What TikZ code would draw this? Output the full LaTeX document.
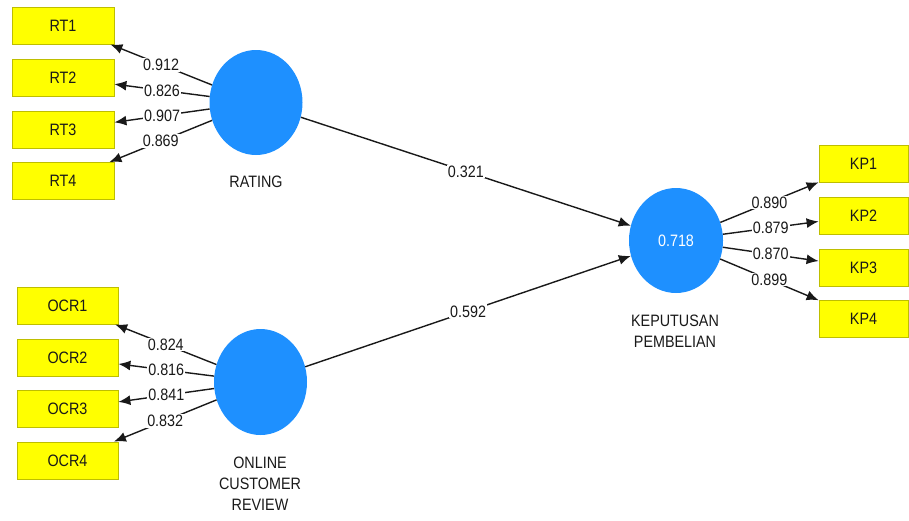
\documentclass[tikz,border=0pt]{standalone}
\usepackage{fontspec}
\setmainfont{Liberation Sans}[FakeStretch=0.87]
\usetikzlibrary{arrows.meta,shapes.geometric}
\definecolor{latblue}{RGB}{30,144,255}
\definecolor{indyellow}{RGB}{255,255,0}
\definecolor{indborder}{RGB}{190,190,0}
\definecolor{txt}{RGB}{25,25,25}
\begin{document}
\begin{tikzpicture}[x=1pt,y=-1pt,
  font=\fontsize{16.5}{21}\selectfont, text=txt,
  ind/.style={draw=indborder, line width=0.8pt, fill=indyellow, minimum height=37pt, inner sep=0pt},
  lat/.style={ellipse, fill=latblue, minimum width=93pt, minimum height=105pt, inner sep=0pt, text=white},
  conn/.style={draw=black!90, line width=1.4pt, -{Latex[length=12pt,width=10pt]}},
  wlab/.style={fill=white, inner sep=1pt, text=txt},
  lvcaption/.style={align=center, text=txt}]
\useasboundingbox (0,0) rectangle (909,520);
% indicators
\node[ind, minimum width=102pt] (RT1) at (63,25.5) {RT1};
\node[ind, minimum width=102pt] (RT2) at (63,77.5) {RT2};
\node[ind, minimum width=102pt] (RT3) at (63,129.5) {RT3};
\node[ind, minimum width=102pt] (RT4) at (63,181) {RT4};
\node[ind, minimum width=101pt] (OCR1) at (67.5,305.5) {OCR1};
\node[ind, minimum width=101pt] (OCR2) at (67.5,357.5) {OCR2};
\node[ind, minimum width=101pt] (OCR3) at (67.5,409) {OCR3};
\node[ind, minimum width=101pt] (OCR4) at (67.5,460.5) {OCR4};
\node[ind, minimum width=89pt] (KP1) at (863.5,164) {KP1};
\node[ind, minimum width=89pt] (KP2) at (863.5,215.5) {KP2};
\node[ind, minimum width=89pt] (KP3) at (863.5,267.5) {KP3};
\node[ind, minimum width=89pt] (KP4) at (863.5,319) {KP4};
% latent variables
\node[lat] (RAT) at (256,102.5) {};
\node[lat, minimum height=106pt] (OCR) at (260.5,382) {};
\node[lat, minimum width=94pt] (KP) at (676,240.5) {0.718};
% captions
\node[lvcaption] (RATc) at (256,182) {RATING};
\node[lvcaption] (OCRc) at (260,484) {ONLINE\\CUSTOMER\\REVIEW};
\node[lvcaption] (KPc) at (675,331) {KEPUTUSAN\\PEMBELIAN};
% outer loadings
\draw[conn] (RAT) -- node[wlab] {0.912} (RT1);
\draw[conn] (RAT) -- node[wlab] {0.826} (RT2);
\draw[conn] (RAT) -- node[wlab] {0.907} (RT3);
\draw[conn] (RAT) -- node[wlab] {0.869} (RT4);
\draw[conn] (OCR) -- node[wlab] {0.824} (OCR1);
\draw[conn] (OCR) -- node[wlab] {0.816} (OCR2);
\draw[conn] (OCR) -- node[wlab] {0.841} (OCR3);
\draw[conn] (OCR) -- node[wlab] {0.832} (OCR4);
\draw[conn] (KP) -- node[wlab] {0.890} (KP1);
\draw[conn] (KP) -- node[wlab] {0.879} (KP2);
\draw[conn] (KP) -- node[wlab] {0.870} (KP3);
\draw[conn] (KP) -- node[wlab] {0.899} (KP4);
% path coefficients
\draw[conn] (RAT) -- node[wlab] {0.321} (KP);
\draw[conn] (OCR) -- node[wlab] {0.592} (KP);
\end{tikzpicture}
\end{document}
